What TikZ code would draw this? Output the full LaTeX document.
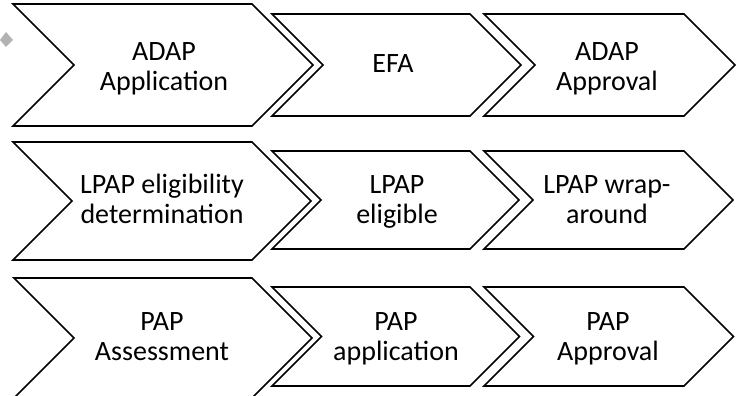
\documentclass[tikz,border=0pt]{standalone}
\usepackage{fontspec}
\setmainfont{Carlito}
\begin{document}
\begin{tikzpicture}[x=1pt,y=-1pt,
  chev/.style={draw=black,line width=1.6pt,line join=miter,fill=white},
  lbl/.style={font=\fontsize{28}{30}\selectfont,align=center,anchor=base,inner sep=0pt}]
\useasboundingbox (0,0) rectangle (739,396);
% chevron: left x, right x, top y, bottom y
\newcommand\mychev[4]{%
  \draw[chev] (#1,#3) -- (#2,#3) -- ({#2+(#4-#3)/2},{(#3+#4)/2}) -- (#2,#4)
    -- (#1,#4) -- ({#1+(#4-#3)/2},{(#3+#4)/2}) -- cycle;}
% scan speck
\fill[gray!60] (0,40) -- (6,32) -- (13,40) -- (6,47) -- cycle;
% row 1
\mychev{13}{252}{4}{126}
\mychev{272}{470}{14}{116}
\mychev{484}{684}{14}{116}
% row 2
\mychev{13}{252}{142}{260}
\mychev{272}{470}{151}{249}
\mychev{484}{684}{151}{249}
% row 3
\mychev{14}{252}{278}{398}
\mychev{272}{470}{287}{386}
\mychev{484}{684}{287}{386}
% labels (anchor base = baseline of last line)
\node[lbl] (a1) at (164,90) {ADAP\\Application};
\node[lbl] (b1) at (393,73) {EFA};
\node[lbl] (c1) at (607,90) {ADAP\\Approval};
\node[lbl] (a2) at (162,223) {LPAP eligibility\\determination};
\node[lbl] (b2) at (397,223) {LPAP\\eligible};
\node[lbl] (c2) at (607,223) {LPAP wrap-\\around};
\node[lbl] (a3) at (162,360) {PAP\\Assessment};
\node[lbl] (b3) at (396,360) {PAP\\application};
\node[lbl] (c3) at (608,360) {PAP\\Approval};
\end{tikzpicture}
\end{document}
